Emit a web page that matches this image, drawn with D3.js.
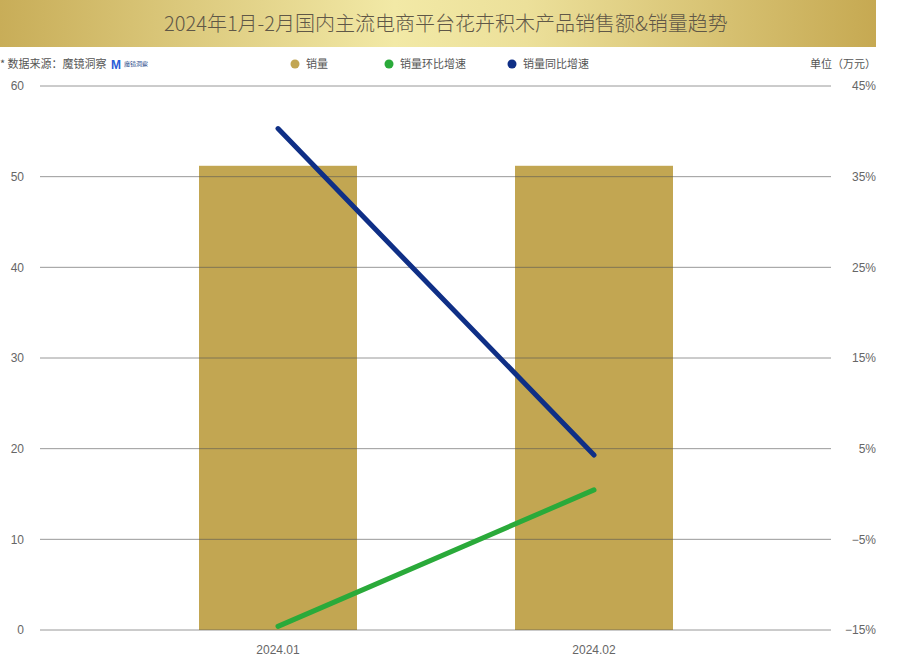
<!DOCTYPE html>
<html>
<head>
<meta charset="utf-8">
<script src="https://cdn.jsdelivr.net/npm/d3@7"></script>
<style>
  body { margin: 0; background: #fff; }
  svg { display: block; font-family: "Noto Sans CJK SC", "Noto Sans", sans-serif; }
  .axis text { fill: #666; font-size: 12px; font-family: "Liberation Sans", "Noto Sans", sans-serif; }
</style>
</head>
<body>
<svg></svg>
<script>
// chart values
var months = ["2024.01", "2024.02"];
var sales = [51.2, 51.2];            // 销量 (万元)
var momGrowth = [-14.6, 0.45];       // 销量环比增速 (%)
var yoyGrowth = [40.3, 4.3];         // 销量同比增速 (%)
var leftTicks = [0, 10, 20, 30, 40, 50, 60];
var rightTicks = [-15, -5, 5, 15, 25, 35, 45];

var width = 898
var height = 663

var svg = d3.select("svg")
        .attr("width", width)
        .attr("height", height);

var padding = { left: 40, right: 67, top: 86, bottom: 33 };
var plotRight = width - padding.right;
var plotBottom = height - padding.bottom;

// title band
var grad = svg.append("defs").append("linearGradient").attr("id", "gold");
grad.append("stop").attr("offset", "0%").attr("stop-color", "#c8ad58");
grad.append("stop").attr("offset", "45%").attr("stop-color", "#f2e9a6");
grad.append("stop").attr("offset", "60%").attr("stop-color", "#ece09a");
grad.append("stop").attr("offset", "100%").attr("stop-color", "#c6a952");

svg.append("rect")
   .attr("x", 0).attr("y", 0)
   .attr("width", 876).attr("height", 47)
   .attr("fill", "url(#gold)");

svg.append("text")
   .attr("x", 446).attr("y", 31)
   .attr("text-anchor", "middle")
   .attr("font-size", 20)
   .attr("font-weight", 300)
   .attr("fill", "#5f5747")
   .text("2024年1月-2月国内主流电商平台花卉积木产品销售额&销量趋势");

// source + unit
svg.append("text")
   .attr("x", 0).attr("y", 68)
   .attr("font-size", 11).attr("fill", "#555")
   .text("* 数据来源：魔镜洞察");

svg.append("text")
   .attr("x", 111).attr("y", 69)
   .attr("font-size", 12).attr("font-weight", "bold")
   .attr("fill", "#2a5bd7").attr("font-family", "Liberation Sans, sans-serif")
   .text("M");
svg.append("text")
   .attr("x", 124).attr("y", 66)
   .attr("font-size", 6).attr("fill", "#2a4a8a")
   .text("魔镜洞察");

svg.append("text")
   .attr("x", 876).attr("y", 68)
   .attr("text-anchor", "end")
   .attr("font-size", 11).attr("fill", "#555")
   .text("单位（万元）");

// legend
var legend = [
  { name: "销量", color: "#c2a652", x: 295 },
  { name: "销量环比增速", color: "#2aaa3a", x: 389 },
  { name: "销量同比增速", color: "#0f2f86", x: 512 }
];
var lg = svg.selectAll(".legend").data(legend).enter().append("g")
   .attr("class", "legend")
   .attr("transform", function(d){ return "translate(" + d.x + ",64)"; });
lg.append("circle").attr("r", 4.5).attr("fill", function(d){ return d.color; });
lg.append("text").attr("x", 11).attr("y", 4)
  .attr("font-size", 11).attr("fill", "#555")
  .text(function(d){ return d.name; });

// scales
var xScale = d3.scaleBand()
               .domain(months)
               .range([120, 752])
               .paddingInner(0.5)
               .paddingOuter(0.25);

var yScale = d3.scaleLinear()
               .domain([0, 60])
               .range([plotBottom, padding.top]);

var y2Scale = d3.scaleLinear()
                .domain([-15, 45])
                .range([plotBottom, padding.top]);

// bars
svg.selectAll(".bar")
   .data(sales)
   .enter()
   .append("rect")
   .attr("class", "bar")
   .attr("x", function(d, i){ return xScale(months[i]); })
   .attr("y", function(d){ return yScale(d); })
   .attr("width", xScale.bandwidth())
   .attr("height", function(d){ return plotBottom - yScale(d); })
   .attr("fill", "#c2a652");

// gridlines on top of bars
svg.append("g")
   .selectAll("line")
   .data(leftTicks)
   .enter()
   .append("line")
   .attr("x1", padding.left).attr("x2", plotRight)
   .attr("y1", function(d){ return yScale(d); })
   .attr("y2", function(d){ return yScale(d); })
   .attr("stroke", "#555")
   .attr("stroke-opacity", 0.6)
   .attr("stroke-width", 1);

// axes
var yAxis = d3.axisLeft(yScale).tickValues(leftTicks).tickSize(0).tickPadding(16);
svg.append("g")
   .attr("class", "axis")
   .attr("transform", "translate(" + padding.left + ",0)")
   .call(yAxis)
   .call(function(g){ g.select(".domain").remove(); });

var y2Axis = d3.axisRight(y2Scale).tickValues(rightTicks).tickSize(0)
               .tickFormat(function(d){ return d + "%"; });
svg.append("g")
   .attr("class", "axis")
   .attr("transform", "translate(" + plotRight + ",0)")
   .call(y2Axis)
   .call(function(g){ g.select(".domain").remove(); })
   .selectAll("text")
   .attr("text-anchor", "end")
   .attr("x", 876 - plotRight)
   .text(function(d){ return (d < 0 ? "\u2212" + Math.abs(d) : d) + "%"; });

var xAxis = d3.axisBottom(xScale).tickSize(0).tickPadding(15);
svg.append("g")
   .attr("class", "axis")
   .attr("transform", "translate(0," + plotBottom + ")")
   .call(xAxis)
   .call(function(g){ g.select(".domain").remove(); });

// lines
var line = d3.line()
             .x(function(d, i){ return xScale(months[i]) + xScale.bandwidth() / 2; })
             .y(function(d){ return y2Scale(d); });

svg.append("path")
   .datum(momGrowth)
   .attr("d", line)
   .attr("fill", "none")
   .attr("stroke", "#2aaa3a")
   .attr("stroke-width", 5)
   .attr("stroke-linecap", "round");

svg.append("path")
   .datum(yoyGrowth)
   .attr("d", line)
   .attr("fill", "none")
   .attr("stroke", "#0f2f86")
   .attr("stroke-width", 5)
   .attr("stroke-linecap", "round");
</script>
</body>
</html>
